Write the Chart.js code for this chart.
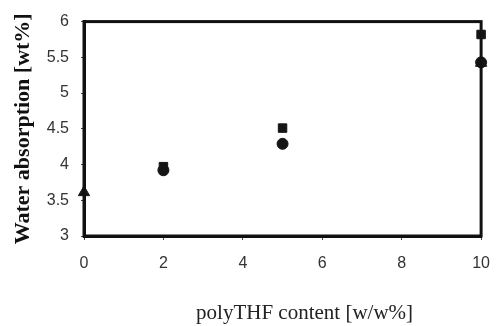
<!DOCTYPE html>
<html>
<head>
<meta charset="utf-8">
<script src="https://cdn.jsdelivr.net/npm/chart.js@4"></script>
<style>
  html, body { margin: 0; padding: 0; background: #fff; }
  #wrap { width: 504px; height: 326px; }
</style>
</head>
<body>
<div id="wrap"><canvas id="scatter"></canvas></div>
<script>
// polyTHF content [w/w%] vs water absorption [wt%]
const squareX = [2, 5, 10];
const squareY = [3.97, 4.51, 5.82];
const circleX = [2, 5, 10];
const circleY = [3.92, 4.29, 5.43];
const triangleX = [0, 10];
const triangleY = [3.61, 5.42];
const xTicks = [0, 2, 4, 6, 8, 10];
const yTicks = [3, 3.5, 4, 4.5, 5, 5.5, 6];
const xTitle = 'polyTHF content [w/w%]';

const toPoints = (xs, ys) => xs.map((x, i) => ({ x: x, y: ys[i] }));

// thick box round the plot, plus the x title (sits a bit right of centre in the original)
const frame = {
  id: 'frame',
  afterDatasetsDraw(chart) {
    const a = chart.chartArea;
    const c = chart.ctx;
    c.save();
    c.strokeStyle = '#111';
    c.lineWidth = 3;
    c.strokeRect(a.left, a.top, a.right - a.left, a.bottom - a.top);
    c.restore();
  },
  afterDraw(chart) {
    const a = chart.chartArea;
    const c = chart.ctx;
    c.save();
    c.fillStyle = '#222';
    c.font = '21px "Liberation Serif"';
    c.textAlign = 'center';
    c.textBaseline = 'middle';
    c.fillText(xTitle, (a.left + a.right) / 2 + 22, a.bottom + 77);
    c.restore();
  }
};

const ctx = document.getElementById('scatter').getContext('2d');

const mk = (label, xs, ys, style, r) => ({
  label: label,
  data: toPoints(xs, ys),
  pointStyle: style,
  pointRadius: r,
  backgroundColor: '#151515',
  borderColor: '#151515',
  borderWidth: 1,
  showLine: false,
  clip: false
});

new Chart(ctx, {
  type: 'scatter',
  data: {
    datasets: [
      mk('circle', circleX, circleY, 'circle', 5.5),
      mk('square', squareX, squareY, 'rect', 6),
      mk('triangle', triangleX, triangleY, 'triangle', 6.5)
    ]
  },
  options: {
    responsive: true,
    maintainAspectRatio: false,
    animation: false,
    layout: { padding: { top: 20, right: 11, left: 0, bottom: 0 } },
    plugins: { legend: { display: false }, tooltip: { enabled: false } },
    scales: {
      x: {
        type: 'linear',
        min: 0,
        max: 10,
        afterBuildTicks: (axis) => { axis.ticks = xTicks.map(v => ({ value: v })); },
        afterFit: (axis) => { axis.height = 90; },
        grid: { display: true, drawOnChartArea: false, tickLength: 4, color: '#444' },
        border: { width: 3, color: '#111' },
        ticks: {
          color: '#333',
          padding: 14,
          maxRotation: 0,
          callback: (v) => String(v),
          font: { family: 'Liberation Sans', size: 16 }
        },
        title: { display: false }
      },
      y: {
        type: 'linear',
        min: 3,
        max: 6,
        afterBuildTicks: (axis) => { axis.ticks = yTicks.map(v => ({ value: v })); },
        afterFit: (axis) => { axis.width = 84; },
        grid: { display: true, drawOnChartArea: false, tickLength: 3, color: '#444' },
        border: { width: 3, color: '#111' },
        ticks: {
          color: '#333',
          padding: 12,
          callback: (v) => String(v),
          font: { family: 'Liberation Sans', size: 16 }
        },
        title: {
          display: true,
          text: 'Water absorption [wt%]',
          color: '#111',
          padding: { top: 10, bottom: 4 },
          font: { family: 'Liberation Serif', size: 22, weight: 'bold' }
        }
      }
    }
  },
  plugins: [frame]
});
</script>
</body>
</html>
